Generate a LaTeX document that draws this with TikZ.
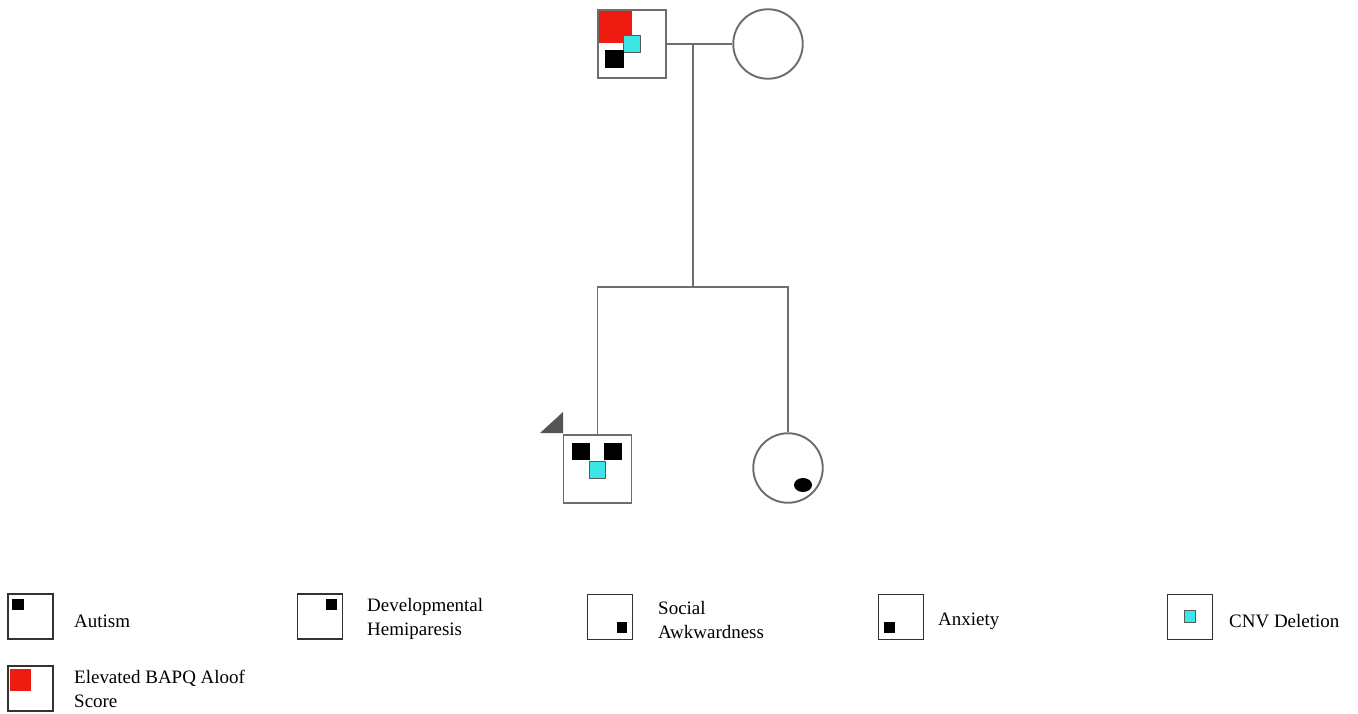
\documentclass[tikz,border=0pt]{standalone}
\usepackage{fontspec}
\setmainfont{Liberation Serif}
\usetikzlibrary{positioning}
\definecolor{PedGray}{HTML}{6E6E6E}
\definecolor{CnvCyan}{HTML}{3CE6E6}
\definecolor{AloofRed}{HTML}{EE1C10}
\definecolor{ProbandGray}{HTML}{555555}

\begin{document}
\begin{tikzpicture}[
  x=0.02cm, y=-0.02cm,
  line/.style={draw=PedGray,line width=1.1pt},
  male/.style={rectangle,draw=PedGray,line width=1.1pt,
    minimum size=1.36cm,inner sep=0pt},
  female/.style={circle,draw=PedGray,line width=1.1pt,
    minimum size=1.39cm,inner sep=0pt},
  key/.style={rectangle,draw=black!80,line width=1pt,
    minimum size=0.9cm,inner sep=0pt},
  cnv/.style={fill=CnvCyan,draw=black!65,line width=0.5pt},
  keytext/.style={anchor=west,align=left,
    font=\fontsize{10.8}{13.6}\selectfont}
]
\useasboundingbox (0,0) rectangle (1358,713);

% parents
\node[male] (father) at (632,44) {};
\node[female] (mother) at (768,44) {};
\fill[AloofRed] (599,11) rectangle (632,43);
\draw[cnv] (623,35) rectangle (640,52);
\fill[black] (605,50) rectangle (624,68);

% children
\node[male] (son) at (597.5,469) {};
\node[female] (daughter) at (788,468) {};
\fill[black] (572,443) rectangle (590,460);
\fill[black] (604,443) rectangle (622,460);
\draw[cnv] (589,461) rectangle (605,478);
\fill[black] (803,485) ellipse [x radius=9, y radius=7];
\fill[ProbandGray] (540,433) -- (563,412) -- (563,433) -- cycle;

% lines of descent
\coordinate (couple) at (693,44);
\coordinate (sibship) at (693,288);
\draw[line] (father) -- (mother);
\draw[line] (couple) -- (sibship);
\draw[line] (son.north) -- ++(0,-147) -| (daughter.north);

% legend
\node[key] (autism) at (30.5,616.5) {};
\fill[black] (12,599) rectangle (24,610);
\node[keytext] (autismtext) at (68,621) {Autism};

\node[key] (hemi) at (320,616.5) {};
\fill[black] (326,599) rectangle (337,610);
\node[keytext] (hemitext) at (361,619) {Developmental\\Hemiparesis};

\node[key] (social) at (610,617) {};
\fill[black] (617,622) rectangle (627,633);
\node[keytext] (socialtext) at (652,620) {Social\\Awkwardness};

\node[key] (anxiety) at (901,617) {};
\fill[black] (884,622) rectangle (895,633);
\node[keytext] (anxietytext) at (932,621) {Anxiety};

\node[key] (cnvkey) at (1190,617) {};
\draw[cnv] (1184,610) rectangle (1195,622);
\node[keytext] (cnvtext) at (1223,621) {CNV Deletion};

\node[key] (aloof) at (30.5,688.5) {};
\fill[AloofRed] (10,669) rectangle (31,691);
\node[keytext] (aklooftext) at (68,689) {Elevated BAPQ Aloof\\Score};
\end{tikzpicture}
\end{document}
